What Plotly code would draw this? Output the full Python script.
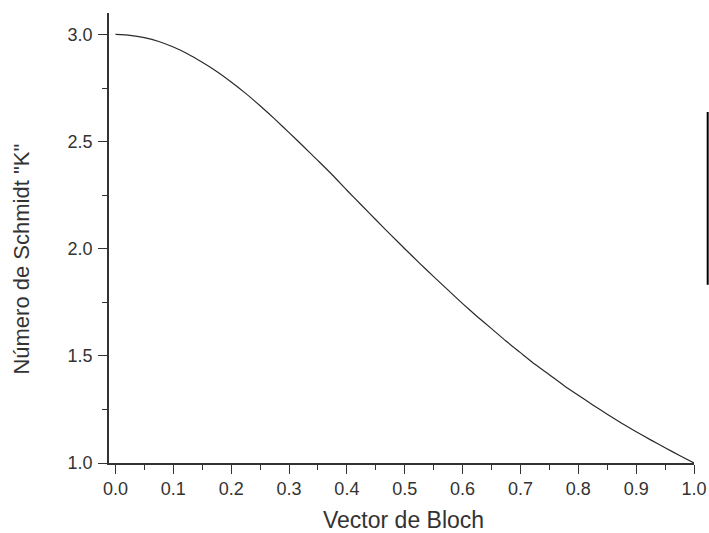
import plotly.graph_objects as go

# Data
bloch_vector = [0.000, 0.025, 0.050, 0.075, 0.100, 0.125, 0.150, 0.175, 0.200, 0.225,
                0.250, 0.275, 0.300, 0.325, 0.350, 0.375, 0.400, 0.425, 0.450, 0.475,
                0.500, 0.525, 0.550, 0.575, 0.600, 0.625, 0.650, 0.675, 0.700, 0.725,
                0.750, 0.775, 0.800, 0.825, 0.850, 0.875, 0.900, 0.925, 0.950, 0.975, 1.000]
schmidt_k = [3.000, 2.996, 2.985, 2.967, 2.941, 2.909, 2.870, 2.827, 2.778, 2.725,
             2.667, 2.606, 2.542, 2.477, 2.411, 2.344, 2.273, 2.204, 2.135, 2.067,
             2.000, 1.934, 1.870, 1.807, 1.744, 1.684, 1.627, 1.569, 1.515, 1.461,
             1.412, 1.362, 1.316, 1.271, 1.228, 1.186, 1.146, 1.108, 1.071, 1.035, 1.000]

x_tick_vals = [0.0, 0.1, 0.2, 0.3, 0.4, 0.5, 0.6, 0.7, 0.8, 0.9, 1.0]
x_tick_text = ["0.0", "0.1", "0.2", "0.3", "0.4", "0.5", "0.6", "0.7", "0.8", "0.9", "1.0"]
y_tick_vals = [1.0, 1.5, 2.0, 2.5, 3.0]
y_tick_text = ["1.0", "1.5", "2.0", "2.5", "3.0"]

x_title = "Vector de Bloch"
y_title = 'Número de Schmidt "K"'

FONT = "Liberation Sans, Arial, sans-serif"
AX = "#333333"

fig = go.Figure()
fig.add_trace(go.Scatter(
    x=bloch_vector, y=schmidt_k, mode="lines",
    line=dict(color="#2a2a2a", width=1.2, shape="spline", smoothing=0.5),
    showlegend=False, hoverinfo="skip",
))

axis_common = dict(
    showgrid=False, zeroline=False, showline=True, linecolor=AX, linewidth=1.6,
    ticks="outside", ticklen=9, tickwidth=1.4, tickcolor=AX,
    tickfont=dict(family=FONT, size=18, color="#333333"),
    mirror=False, automargin=False,
)

fig.update_xaxes(
    range=[-0.0112, 1.0], tickvals=x_tick_vals, ticktext=x_tick_text,
    minor=dict(ticks="outside", ticklen=5, tickwidth=1.4, tickcolor=AX, dtick=0.05, tick0=0, showgrid=False),
    **axis_common,
)
fig.update_yaxes(
    range=[1.0, 3.1], tickvals=y_tick_vals, ticktext=y_tick_text,
    minor=dict(ticks="outside", ticklen=5, tickwidth=1.4, tickcolor=AX, dtick=0.25, tick0=1.0, showgrid=False),
    ticklabelstandoff=2,
    **axis_common,
)

fig.add_annotation(
    text=x_title, xref="paper", yref="paper", x=0.504, y=-0.127,
    xanchor="center", yanchor="middle", showarrow=False,
    font=dict(family=FONT, size=23, color="#333333"),
)
fig.add_annotation(
    text=y_title, xref="paper", yref="paper", x=-0.1487, y=0.452,
    xanchor="center", yanchor="middle", showarrow=False, textangle=-90,
    font=dict(family=FONT, size=22, color="#333333"),
)

# stray vertical bar at the right edge of the reference image
fig.add_shape(type="line", xref="paper", yref="paper",
              x0=1.0234, x1=1.0234, y0=0.396, y1=0.780,
              line=dict(color="black", width=2))

fig.update_layout(
    width=709, height=533,
    margin=dict(l=109, r=15, t=13, b=70),
    paper_bgcolor="white", plot_bgcolor="white",
)

fig.write_html("out.html")
